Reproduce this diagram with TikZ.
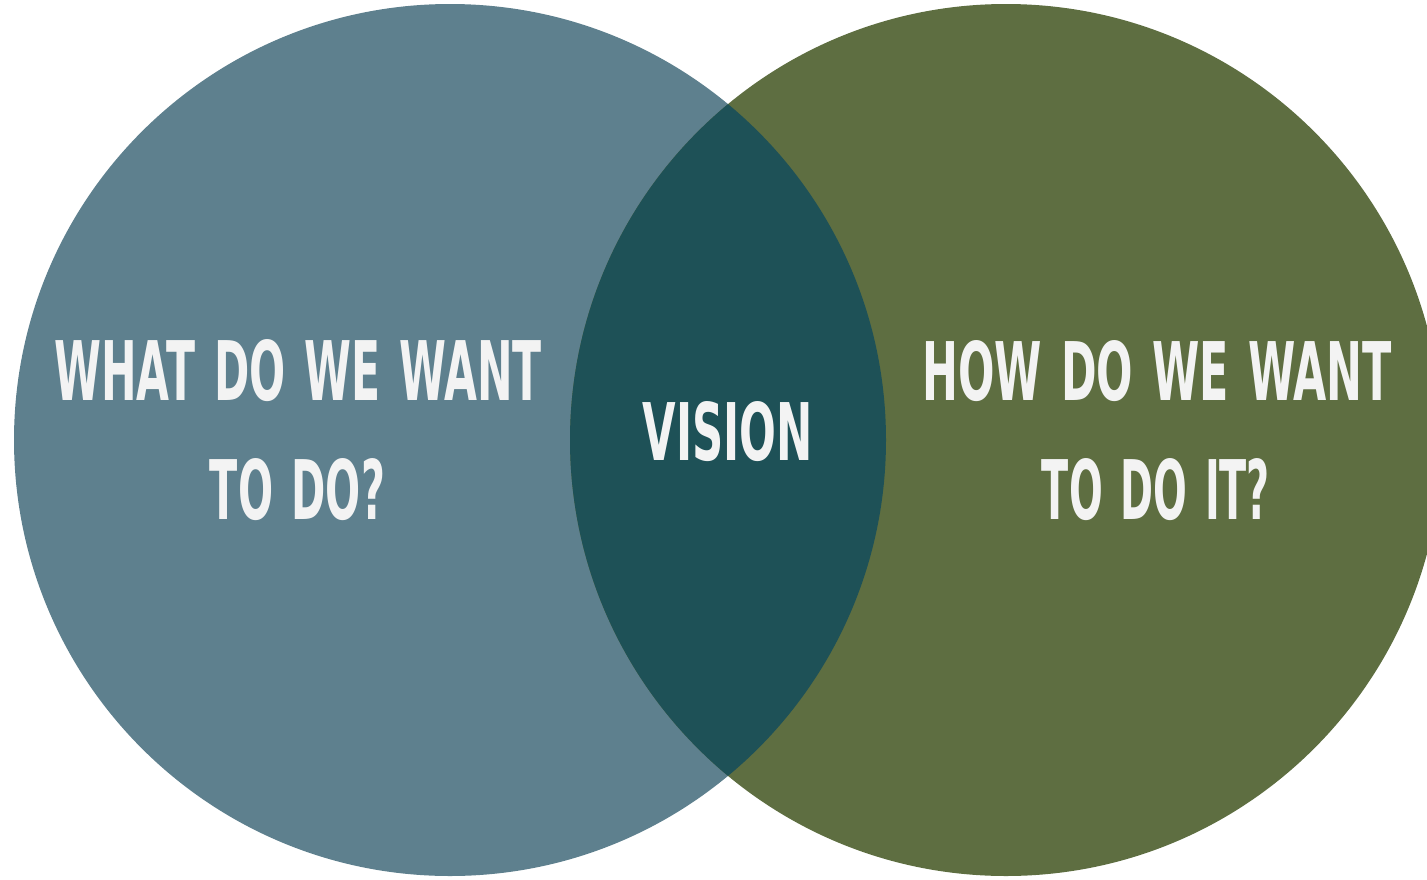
\documentclass[tikz,border=0pt]{standalone}
\usepackage{fontspec}
\IfFontExistsTF{DejaVu Sans Condensed}
  {\newfontfamily\lblfont{DejaVu Sans Condensed}}
  {\newfontfamily\lblfont{Liberation Sans}}
\usepackage{graphicx}
\definecolor{leftc}{HTML}{5E808E}
\definecolor{rightc}{HTML}{5E6E41}
\definecolor{midc}{HTML}{1E5157}
\definecolor{txt}{HTML}{F3F3F3}
\newcommand{\vlabel}[3]{\resizebox{#1pt}{#2pt}{\lblfont\bfseries\spaceskip=0.4em #3}}
\tikzset{lbl/.style={anchor=south, inner sep=0pt, outer sep=0pt, text=txt}}
\begin{document}
\begin{tikzpicture}[x=1pt,y=1pt]
\useasboundingbox (0,-879) rectangle (1427,0);
\clip (0,-879) rectangle (1427,0);
\coordinate (L) at (450,-440);
\coordinate (R) at (1006,-440);
\fill[leftc] (L) circle (436);
\fill[rightc] (R) circle (436);
\begin{scope}
\clip (L) circle (436);
\fill[midc] (R) circle (436);
\end{scope}
\node[lbl] (l1) at (298,-402) {\vlabel{487}{61}{WHAT DO WE WANT}};
\node[lbl] (l2) at (297.5,-521) {\vlabel{175}{61}{TO DO?}};
\node[lbl] (v) at (728,-462) {\vlabel{170}{59}{VISION}};
\node[lbl] (r1) at (1157,-402) {\vlabel{469}{60}{HOW DO WE WANT}};
\node[lbl] (r2) at (1156,-521) {\vlabel{228}{61}{TO DO IT?}};
\end{tikzpicture}
\end{document}
